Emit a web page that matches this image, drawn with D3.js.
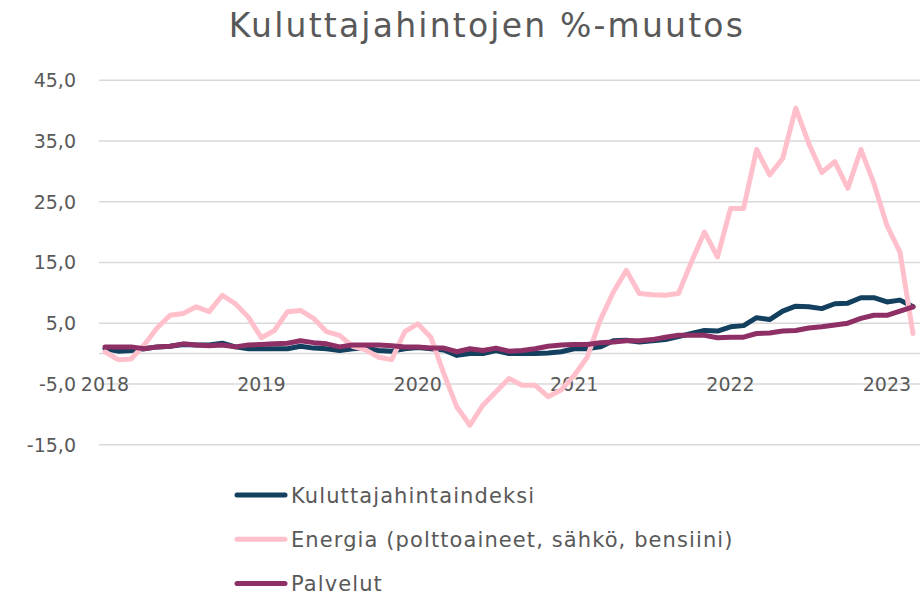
<!DOCTYPE html>
<html>
<head>
<meta charset="utf-8">
<script src="https://cdn.jsdelivr.net/npm/d3@7"></script>
<style>
  body { margin: 0; background: #fff; }
  text { font-family: "DejaVu Sans", sans-serif; fill: #595959; }
</style>
</head>
<body>
<div id="chart"></div>
<script>
'use strict';

// Year labels shown on the category axis (placed at each January)
const years = ["2018", "2019", "2020", "2021", "2022", "2023"];

// Monthly % changes, Jan 2018 .. Mar 2023
const khi = [
  0.8, 0.4, 0.5, 0.8, 1.1, 1.2, 1.5, 1.4, 1.4, 1.7, 1.1, 0.8,
  0.8, 0.8, 0.8, 1.2, 0.9, 0.8, 0.5, 0.8, 0.9, 0.5, 0.4, 0.8,
  1.0, 0.8, 0.6, -0.3, 0.0, 0.0, 0.5, 0.0, 0.0, 0.0, 0.1, 0.3,
  0.8, 0.8, 1.1, 2.1, 2.2, 1.9, 2.1, 2.3, 2.8, 3.3, 3.8, 3.7,
  4.4, 4.6, 5.9, 5.6, 7.0, 7.8, 7.7, 7.4, 8.2, 8.3, 9.2, 9.2,
  8.5, 8.8, 7.7
];
const energia = [
  0.3, -1.0, -0.9, 1.4, 4.2, 6.3, 6.6, 7.7, 6.9, 9.6, 8.2, 6.0,
  2.6, 3.8, 6.9, 7.1, 5.8, 3.6, 3.0, 1.2, 0.6, -0.6, -1.0, 3.6,
  4.9, 2.7, -3.3, -8.8, -11.8, -8.5, -6.3, -4.1, -5.2, -5.2, -7.1, -6.0,
  -3.6, -0.6, 5.5, 10.1, 13.7, 9.9, 9.7, 9.6, 9.9, 15.1, 20.0, 15.9,
  23.9, 23.9, 33.6, 29.4, 32.1, 40.4, 34.6, 29.8, 31.6, 27.2, 33.6, 28.0,
  21.1, 16.7, 3.3
];
const palvelut = [
  1.1, 1.1, 1.1, 0.8, 1.1, 1.2, 1.6, 1.4, 1.3, 1.4, 1.1, 1.4,
  1.5, 1.6, 1.7, 2.1, 1.8, 1.6, 1.1, 1.4, 1.4, 1.4, 1.3, 1.1,
  1.1, 0.9, 0.9, 0.3, 0.8, 0.5, 0.9, 0.4, 0.5, 0.8, 1.2, 1.4,
  1.5, 1.5, 1.8, 1.9, 2.1, 2.1, 2.3, 2.7, 3.0, 3.0, 3.0, 2.6,
  2.7, 2.7, 3.3, 3.4, 3.7, 3.8, 4.2, 4.4, 4.7, 5.0, 5.8, 6.3,
  6.3, 7.0, 7.7
];

const seriesNames = ["Kuluttajahintaindeksi", "Energia (polttoaineet, sähkö, bensiini)", "Palvelut"];
const seriesColors = ["#13405f", "#ffc0cc", "#8e3066"];
const yTicks = [-15, -5, 5, 15, 25, 35, 45];

(function() {
  const width = 923, height = 594;

  const svg = d3.select("#chart").append("svg")
    .attr("width", width)
    .attr("height", height);

  // Title
  svg.append("text")
    .attr("x", 487)
    .attr("y", 37)
    .attr("text-anchor", "middle")
    .attr("font-size", "33px")
    .attr("letter-spacing", "2.2px")
    .text("Kuluttajahintojen %-muutos");

  const months = d3.range(khi.length);

  const x = d3.scalePoint()
    .domain(months)
    .range([105, 913]);

  const y = d3.scaleLinear()
    .domain([-15, 45])
    .range([444.7, 80.2]);

  const gridLeft = 99, gridRight = 920;

  const fmt = d3.formatLocale({ decimal: ",", thousands: " ", grouping: [3], currency: ["", "€"], minus: "-" }).format(".1f");

  // Gridlines
  svg.append("g")
    .selectAll("line")
    .data(yTicks)
    .enter().append("line")
      .attr("x1", gridLeft)
      .attr("x2", gridRight)
      .attr("y1", d => y(d))
      .attr("y2", d => y(d))
      .attr("stroke", "#d9d9d9")
      .attr("stroke-width", 1.5);

  // Horizontal axis at zero
  svg.append("line")
    .attr("x1", gridLeft)
    .attr("x2", gridRight)
    .attr("y1", y(0))
    .attr("y2", y(0))
    .attr("stroke", "#d9d9d9")
    .attr("stroke-width", 1.5);

  // Y labels
  svg.append("g")
    .selectAll("text")
    .data(yTicks)
    .enter().append("text")
      .attr("x", 76)
      .attr("y", d => y(d))
      .attr("dy", "0.36em")
      .attr("text-anchor", "end")
      .attr("font-size", "19px")
      .text(d => fmt(d));

  // Year labels, at January of each year
  svg.append("g")
    .selectAll("text")
    .data(years)
    .enter().append("text")
      .attr("x", (d, i) => x(i * 12))
      .attr("y", y(-5))
      .attr("dy", "0.36em")
      .attr("text-anchor", "middle")
      .attr("font-size", "19px")
      .text(d => d);

  // Lines
  const line = d3.line()
    .x((d, i) => x(i))
    .y(d => y(d));

  const allSeries = [khi, energia, palvelut];
  allSeries.forEach(function(values, k) {
    svg.append("path")
      .datum(values)
      .attr("fill", "none")
      .attr("stroke", seriesColors[k])
      .attr("stroke-width", 5)
      .attr("stroke-linejoin", "round")
      .attr("stroke-linecap", "round")
      .attr("d", line);
  });

  // Legend
  const legend = svg.append("g")
    .selectAll("g")
    .data(seriesNames)
    .enter().append("g")
      .attr("transform", (d, i) => "translate(0," + (495 + i * 44.3) + ")");

  legend.append("line")
    .attr("x1", 237)
    .attr("x2", 285)
    .attr("stroke", (d, i) => seriesColors[i])
    .attr("stroke-width", 5)
    .attr("stroke-linecap", "round");

  legend.append("text")
    .attr("x", 291)
    .attr("dy", "0.36em")
    .attr("font-size", "21px")
    .attr("letter-spacing", "1.1px")
    .text(d => d);
})();
</script>
</body>
</html>
